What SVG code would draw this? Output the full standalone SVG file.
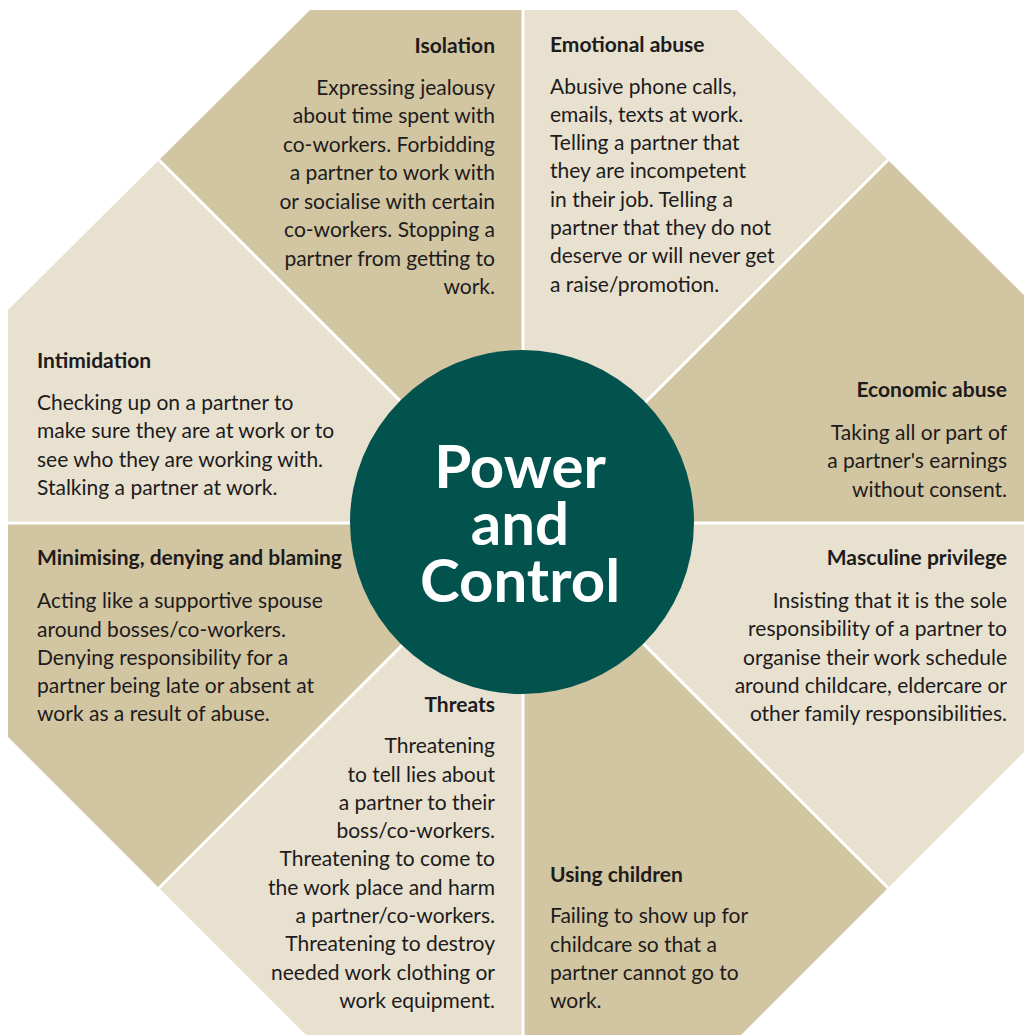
<svg xmlns="http://www.w3.org/2000/svg" width="1024" height="1035" viewBox="0 0 1024 1035">
<style>
.dark{fill:#d2c5a1}
.light{fill:#e8e1cf}
.t{font-family:Lato,"Open Sans","Liberation Sans",sans-serif;font-weight:700;font-size:21px;fill:#1d1b1c}
.b{font-family:Lato,"Open Sans","Liberation Sans",sans-serif;font-size:21px;fill:#1d1b1c}
.r{text-anchor:end}
.div{stroke:#ffffff;stroke-width:3;fill:none}
.hub{font-family:Lato,"Open Sans","Liberation Sans",sans-serif;font-weight:700;font-size:60px;fill:#ffffff;text-anchor:middle}
</style>
<rect width="1024" height="1035" fill="#ffffff"/>
<g id="isolation">
<polygon class="dark" points="523,10 310,10 159,160 523,523"/>
<text class="t r" x="495" y="53">Isolation</text>
<text class="b r"><tspan x="495" y="95">Expressing jealousy</tspan><tspan x="495" y="123">about time spent with</tspan><tspan x="495" y="152">co-workers. Forbidding</tspan><tspan x="495" y="180">a partner to work with</tspan><tspan x="495" y="209">or socialise with certain</tspan><tspan x="495" y="237">co-workers. Stopping a</tspan><tspan x="495" y="266">partner from getting to</tspan><tspan x="495" y="294">work.</tspan></text>
</g>
<g id="emotional">
<polygon class="light" points="523,10 737,10 888,160 523,523"/>
<text class="t" x="550" y="52">Emotional abuse</text>
<text class="b"><tspan x="550" y="94">Abusive phone calls,</tspan><tspan x="550" y="122">emails, texts at work.</tspan><tspan x="550" y="150">Telling a partner that</tspan><tspan x="550" y="178">they are incompetent</tspan><tspan x="550" y="207">in their job. Telling a</tspan><tspan x="550" y="235">partner that they do not</tspan><tspan x="550" y="263">deserve or will never get</tspan><tspan x="550" y="292">a raise/promotion.</tspan></text>
</g>
<g id="economic">
<polygon class="dark" points="888,160 1039,310 1039,523 523,523"/>
<text class="t r" x="1007" y="397">Economic abuse</text>
<text class="b r"><tspan x="1007" y="440">Taking all or part of</tspan><tspan x="1007" y="468">a partner's earnings</tspan><tspan x="1007" y="497">without consent.</tspan></text>
</g>
<g id="masculine">
<polygon class="light" points="1039,523 1039,737 888,888 523,523"/>
<text class="t r" x="1007" y="565">Masculine privilege</text>
<text class="b r"><tspan x="1007" y="608">Insisting that it is the sole</tspan><tspan x="1007" y="636">responsibility of a partner to</tspan><tspan x="1007" y="665">organise their work schedule</tspan><tspan x="1007" y="693">around childcare, eldercare or</tspan><tspan x="1007" y="721">other family responsibilities.</tspan></text>
</g>
<g id="children">
<polygon class="dark" points="888,888 737,1039 523,1039 523,523"/>
<text class="t" x="550" y="882">Using children</text>
<text class="b"><tspan x="550" y="923">Failing to show up for</tspan><tspan x="550" y="952">childcare so that a</tspan><tspan x="550" y="980">partner cannot go to</tspan><tspan x="550" y="1008">work.</tspan></text>
</g>
<g id="threats">
<polygon class="light" points="523,1039 310,1039 159,888 523,523"/>
<text class="t r" x="495" y="712">Threats</text>
<text class="b r"><tspan x="495" y="753">Threatening</tspan><tspan x="495" y="782">to tell lies about</tspan><tspan x="495" y="810">a partner to their</tspan><tspan x="495" y="838">boss/co-workers.</tspan><tspan x="495" y="866">Threatening to come to</tspan><tspan x="495" y="895">the work place and harm</tspan><tspan x="495" y="923">a partner/co-workers.</tspan><tspan x="495" y="951">Threatening to destroy</tspan><tspan x="495" y="980">needed work clothing or</tspan><tspan x="495" y="1008">work equipment.</tspan></text>
</g>
<g id="minimising">
<polygon class="dark" points="159,888 8,737 8,523 523,523"/>
<text class="t" x="37" y="565">Minimising, denying and blaming</text>
<text class="b"><tspan x="37" y="608">Acting like a supportive spouse</tspan><tspan x="37" y="637">around bosses/co-workers.</tspan><tspan x="37" y="665">Denying responsibility for a</tspan><tspan x="37" y="693">partner being late or absent at</tspan><tspan x="37" y="721">work as a result of abuse.</tspan></text>
</g>
<g id="intimidation">
<polygon class="light" points="8,523 8,310 159,160 523,523"/>
<text class="t" x="37" y="368">Intimidation</text>
<text class="b"><tspan x="37" y="410">Checking up on a partner to</tspan><tspan x="37" y="438">make sure they are at work or to</tspan><tspan x="37" y="467">see who they are working with.</tspan><tspan x="37" y="495">Stalking a partner at work.</tspan></text>
</g>
<g id="connectors">
<line class="div" x1="523" y1="0" x2="523" y2="1035"/>
<line class="div" x1="0" y1="523" x2="1024" y2="523"/>
<line class="div" x1="159" y1="160" x2="888" y2="888"/>
<line class="div" x1="888" y1="160" x2="159" y2="888"/>
</g>
<g id="hub">
<circle cx="522" cy="522" r="172" fill="#02534e"/>
<text class="hub" x="520" y="488">Power</text>
<text class="hub" x="520" y="545">and</text>
<text class="hub" x="520" y="602">Control</text>
</g>
</svg>
